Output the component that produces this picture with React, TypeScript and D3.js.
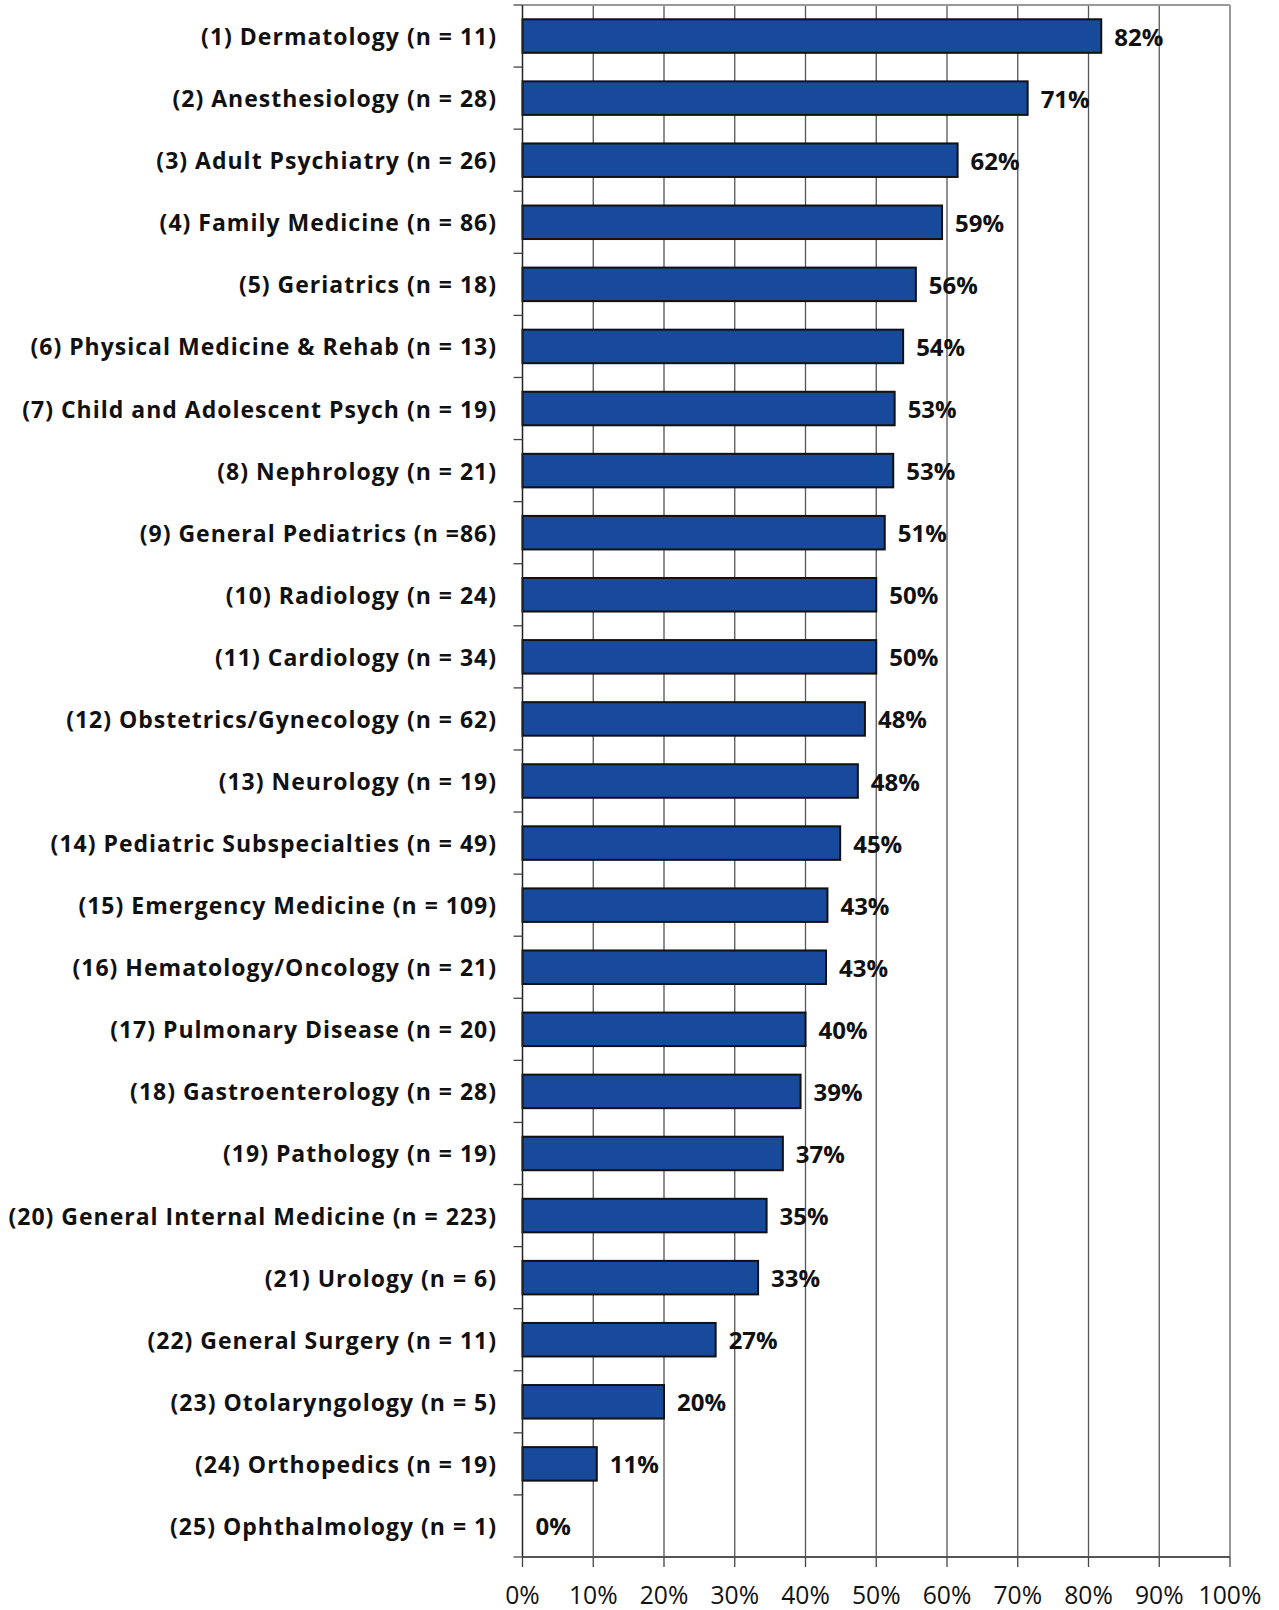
import React from "react";
import * as d3 from "d3";

const categories: string[] = [
  "(1) Dermatology (n = 11)",
  "(2) Anesthesiology (n = 28)",
  "(3) Adult Psychiatry (n = 26)",
  "(4) Family Medicine (n = 86)",
  "(5) Geriatrics (n = 18)",
  "(6) Physical Medicine & Rehab (n = 13)",
  "(7) Child and Adolescent Psych (n = 19)",
  "(8) Nephrology (n = 21)",
  "(9) General Pediatrics (n =86)",
  "(10) Radiology (n = 24)",
  "(11) Cardiology (n = 34)",
  "(12) Obstetrics/Gynecology (n = 62)",
  "(13) Neurology (n = 19)",
  "(14) Pediatric Subspecialties (n = 49)",
  "(15) Emergency Medicine (n = 109)",
  "(16) Hematology/Oncology (n = 21)",
  "(17) Pulmonary Disease (n = 20)",
  "(18) Gastroenterology (n = 28)",
  "(19) Pathology (n = 19)",
  "(20) General Internal Medicine (n = 223)",
  "(21) Urology (n = 6)",
  "(22) General Surgery (n = 11)",
  "(23) Otolaryngology (n = 5)",
  "(24) Orthopedics (n = 19)",
  "(25) Ophthalmology (n = 1)",
];

const values: number[] = [
  81.8, 71.4, 61.5, 59.3, 55.6, 53.8, 52.6, 52.4, 51.2, 50.0, 50.0, 48.4, 47.4,
  44.9, 43.1, 42.9, 40.0, 39.3, 36.8, 34.5, 33.3, 27.3, 20.0, 10.5, 0.0,
];

const valueLabels: string[] = [
  "82%", "71%", "62%", "59%", "56%", "54%", "53%", "53%", "51%", "50%", "50%",
  "48%", "48%", "45%", "43%", "43%", "40%", "39%", "37%", "35%", "33%", "27%",
  "20%", "11%", "0%",
];

const xTicks: number[] = [0, 10, 20, 30, 40, 50, 60, 70, 80, 90, 100];

const W = 1279;
const H = 1610;
const left = 522.5;
const right = 1230;
const top = 5;
const bottom = 1557;

export default function App() {
  const x = d3.scaleLinear().domain([0, 100]).range([left, right]);
  const y = d3
    .scaleBand<string>()
    .domain(categories)
    .range([top, bottom])
    .paddingInner(0.46)
    .paddingOuter(0.23);
  const step = (bottom - top) / categories.length;
  const boundaries = d3.range(categories.length + 1).map((i) => top + i * step);

  return (
    <svg
      width={W}
      height={H}
      style={{ position: "absolute", left: 0, top: 0, display: "block", background: "#fff" }}
    >
      {/* gridlines */}
      {xTicks.slice(1, -1).map((t) => (
        <line key={"g" + t} x1={x(t)} x2={x(t)} y1={top} y2={bottom} stroke="#555" strokeWidth={1.3} />
      ))}
      {/* frame top & right */}
      <line x1={left} x2={right} y1={top} y2={top} stroke="#999" strokeWidth={2} />
      <line x1={right} x2={right} y1={top} y2={bottom} stroke="#999" strokeWidth={2} />

      {/* bars */}
      {categories.map((c, i) =>
        values[i] > 0 ? (
          <rect
            key={"b" + i}
            x={x(0)}
            y={y(c)}
            width={x(values[i]) - x(0)}
            height={y.bandwidth()}
            fill="#184A9C"
            stroke="#111"
            strokeWidth={2}
          />
        ) : null
      )}

      {/* value labels */}
      {categories.map((c, i) => (
        <text
          key={"v" + i}
          x={x(values[i]) + 13}
          y={(y(c) as number) + y.bandwidth() / 2 + 9.5}
          fontFamily="'Open Sans', sans-serif"
          fontWeight={700}
          fontSize={24}
          fill="#111"
        >
          {valueLabels[i]}
        </text>
      ))}

      {/* left axis */}
      <line x1={left} x2={left} y1={top} y2={bottom} stroke="#222" strokeWidth={1.5} />
      {boundaries.map((b, i) => (
        <line key={"lt" + i} x1={left - 9} x2={left} y1={b} y2={b} stroke="#444" strokeWidth={1.3} />
      ))}
      {categories.map((c) => (
        <text
          key={"c" + c}
          x={497}
          y={(y(c) as number) + y.bandwidth() / 2 + 9}
          textAnchor="end"
          fontFamily="'Open Sans', sans-serif"
          fontWeight={700}
          fontSize={23}
          letterSpacing={1}
          fill="#111"
        >
          {c}
        </text>
      ))}

      {/* bottom axis */}
      <line x1={left} x2={right} y1={bottom} y2={bottom} stroke="#555" strokeWidth={2} />
      {xTicks.map((t) => (
        <line key={"bt" + t} x1={x(t)} x2={x(t)} y1={bottom} y2={bottom + 10} stroke="#444" strokeWidth={1.3} />
      ))}
      {xTicks.map((t) => (
        <text
          key={"bl" + t}
          transform={`translate(${x(t)}, 1604) scale(0.95, 1)`}
          textAnchor="middle"
          fontFamily="'Open Sans', sans-serif"
          fontSize={26}
          fill="#111"
        >
          {t + "%"}
        </text>
      ))}
    </svg>
  );
}
